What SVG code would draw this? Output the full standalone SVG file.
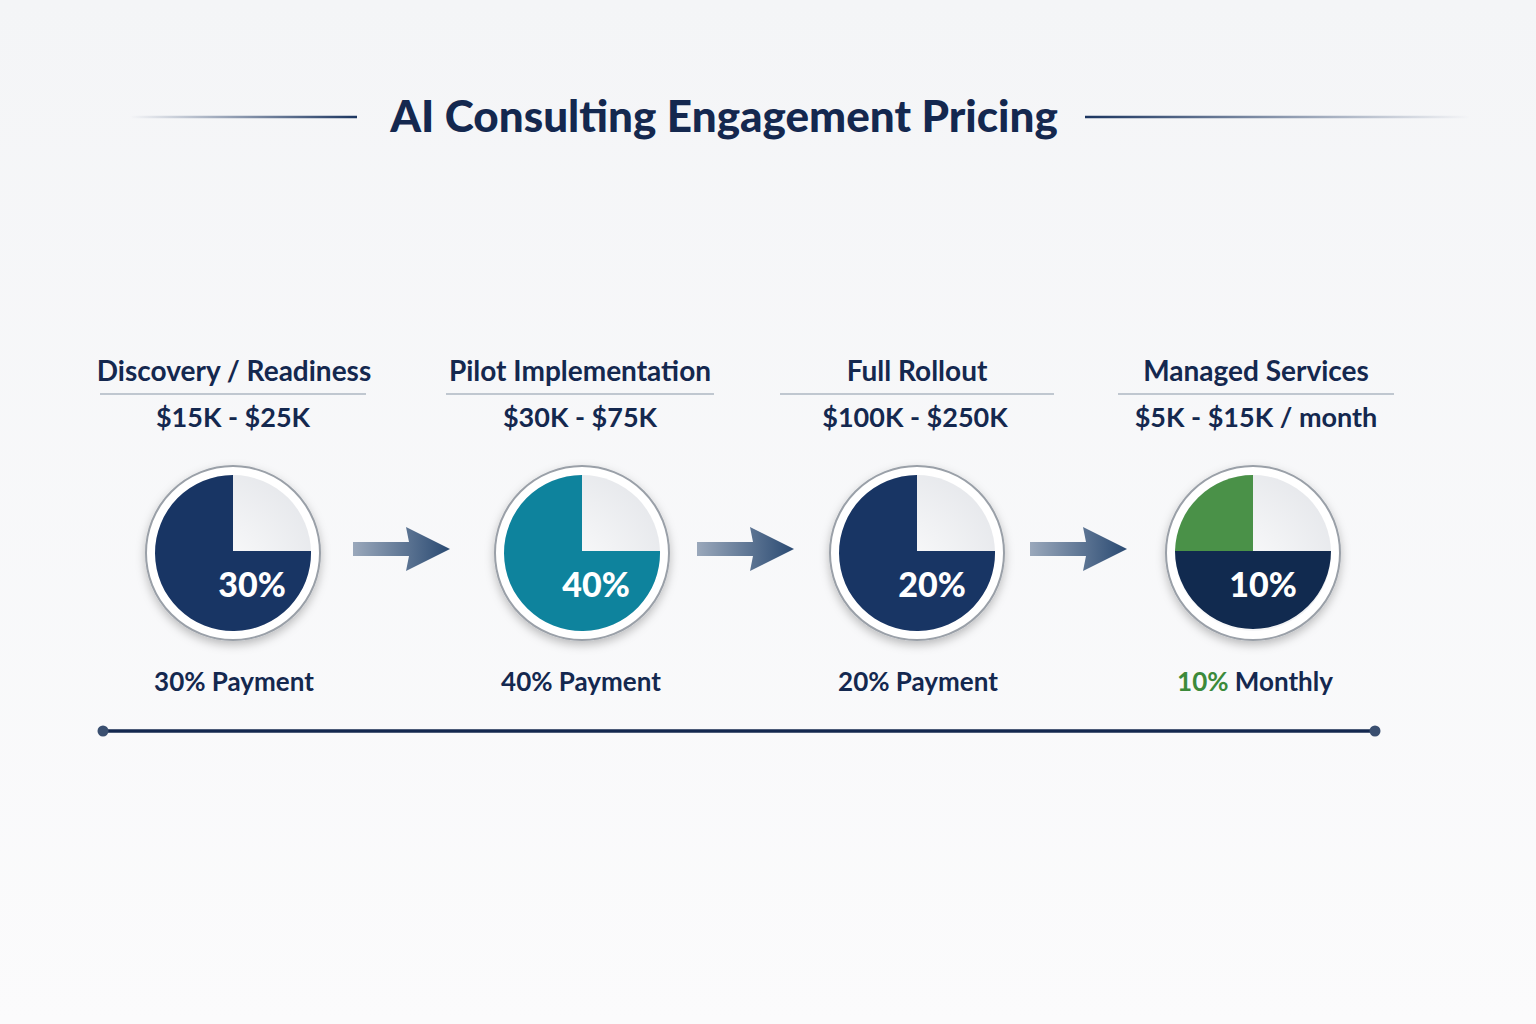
<svg xmlns="http://www.w3.org/2000/svg" width="1536" height="1024" viewBox="0 0 1536 1024">
<defs>
<linearGradient id="bg" x1="0" y1="0" x2="0" y2="1"><stop offset="0" stop-color="#f4f5f7"/><stop offset="1" stop-color="#fbfbfc"/></linearGradient>
<linearGradient id="lineL" gradientUnits="userSpaceOnUse" x1="130" y1="0" x2="357" y2="0"><stop offset="0" stop-color="#1b3560" stop-opacity="0"/><stop offset="1" stop-color="#1b3560"/></linearGradient>
<linearGradient id="lineR" gradientUnits="userSpaceOnUse" x1="1085" y1="0" x2="1470" y2="0"><stop offset="0" stop-color="#1b3560"/><stop offset="1" stop-color="#1b3560" stop-opacity="0"/></linearGradient>
<linearGradient id="arr" x1="0" x2="1"><stop offset="0" stop-color="#9aa8bb"/><stop offset="1" stop-color="#2a4a72"/></linearGradient>
<radialGradient id="empty" cx="0.3" cy="0.7" r="0.9"><stop offset="0" stop-color="#ffffff"/><stop offset="1" stop-color="#e4e6ea"/></radialGradient>
<filter id="sh" x="-20%" y="-20%" width="140%" height="140%"><feDropShadow dx="0" dy="4" stdDeviation="5" flood-color="#000" flood-opacity="0.25"/></filter>
<g id="arrow"><path d="M0,-7 H56 L53,-22 L97,0 L53,22 L56,7 H0 Z" fill="url(#arr)"/></g>
</defs>
<style>
text{font-family:"Lato","Open Sans","Liberation Sans",sans-serif;text-anchor:middle;fill:#14284f}
.h{font-size:28px;font-weight:700}
.p{font-size:27px;font-weight:700}
.l{font-size:26px;font-weight:700}
.pc{font-size:34px;font-weight:900;fill:#fff}
.ul{stroke:#8a97a8;stroke-width:1.2}
.ring{fill:#fff;stroke:#9aa0a8;stroke-width:2}
</style>
<rect width="1536" height="1024" fill="url(#bg)"/>
<g id="title">
<line x1="130" y1="117" x2="357" y2="117" stroke="url(#lineL)" stroke-width="2.5"/>
<line x1="1085" y1="117" x2="1470" y2="117" stroke="url(#lineR)" stroke-width="2.5"/>
<text x="724" y="132" style="font-size:44px;font-weight:900">AI Consulting Engagement Pricing</text>
</g>
<g id="connectors">
<use href="#arrow" x="353" y="549"/>
<use href="#arrow" x="697" y="549"/>
<use href="#arrow" x="1030" y="549"/>
<line x1="103" y1="731" x2="1375" y2="731" stroke="#14284f" stroke-width="3.5"/>
<circle cx="103" cy="731" r="5.5" fill="#3a4f70"/>
<circle cx="1375" cy="731" r="5.5" fill="#3a4f70"/>
</g>
<g id="stage1">
<text class="h" x="234" y="381">Discovery / Readiness</text>
<line class="ul" x1="100" y1="394" x2="366" y2="394"/>
<text class="p" x="233" y="427">$15K - $25K</text>
<circle class="ring" cx="233" cy="553" r="87" filter="url(#sh)"/>
<circle cx="233" cy="553" r="78" fill="url(#empty)"/>
<path d="M233,551 V475 A78,78 0 1 0 311,551 Z" fill="#183564"/>
<text class="pc" x="252" y="597">30%</text>
<text class="l" x="234" y="691">30% Payment</text>
</g>
<g id="stage2">
<text class="h" x="580" y="381">Pilot Implementation</text>
<line class="ul" x1="446" y1="394" x2="714" y2="394"/>
<text class="p" x="580" y="427">$30K - $75K</text>
<circle class="ring" cx="582" cy="553" r="87" filter="url(#sh)"/>
<circle cx="582" cy="553" r="78" fill="url(#empty)"/>
<path d="M582,551 V475 A78,78 0 1 0 660,551 Z" fill="#0e839d"/>
<text class="pc" x="596" y="597">40%</text>
<text class="l" x="581" y="691">40% Payment</text>
</g>
<g id="stage3">
<text class="h" x="917" y="381">Full Rollout</text>
<line class="ul" x1="780" y1="394" x2="1054" y2="394"/>
<text class="p" x="915" y="427">$100K - $250K</text>
<circle class="ring" cx="917" cy="553" r="87" filter="url(#sh)"/>
<circle cx="917" cy="553" r="78" fill="url(#empty)"/>
<path d="M917,551 V475 A78,78 0 1 0 995,551 Z" fill="#183564"/>
<text class="pc" x="932" y="597">20%</text>
<text class="l" x="918" y="691">20% Payment</text>
</g>
<g id="stage4">
<text class="h" x="1256" y="381">Managed Services</text>
<line class="ul" x1="1118" y1="394" x2="1394" y2="394"/>
<text class="p" x="1256" y="427">$5K - $15K / month</text>
<circle class="ring" cx="1253" cy="553" r="87" filter="url(#sh)"/>
<circle cx="1253" cy="553" r="78" fill="url(#empty)"/>
<path d="M1253,551 V475 A78,78 0 0 0 1175,551 Z" fill="#4a9148"/>
<path d="M1175,551 A78,78 0 0 0 1331,551 Z" fill="#112a4f"/>
<text class="pc" x="1263" y="597">10%</text>
<text class="l" x="1255" y="691"><tspan fill="#3c8a3a">10%</tspan> Monthly</text>
</g>
</svg>
